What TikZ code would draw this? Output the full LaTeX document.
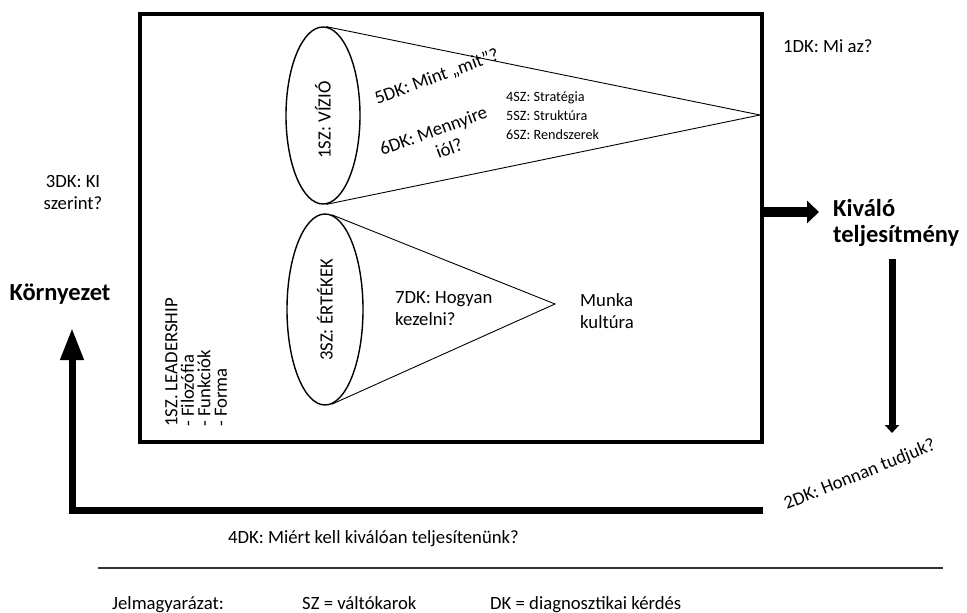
\documentclass[tikz,border=0pt]{standalone}
\usepackage{fontspec}
\setmainfont{Carlito}
\usetikzlibrary{shapes.geometric,arrows.meta}
\begin{document}
\begin{tikzpicture}[x=1pt,y=-1pt,
  txt/.style={inner sep=0pt, font=\fontsize{18.7}{22}\selectfont},
  small/.style={inner sep=0pt, font=\fontsize{14.2}{19}\selectfont},
  big/.style={inner sep=0pt, font=\fontsize{24.5}{26}\selectfont\bfseries},
  oval/.style={ellipse, draw, line width=1.4pt, inner sep=0pt},
  cone/.style={line width=0.9pt},
  fatline/.style={line width=#1, line join=miter},
]
\useasboundingbox (0,0) rectangle (967,613);

% main frame
\node[draw, line width=4pt, minimum width=622.5pt, minimum height=428.5pt,
      inner sep=0pt, outer sep=0pt] (box) at (450.75,227.75) {};

% vision cone
\node[oval, minimum width=74pt, minimum height=177pt] (V) at (323,115.5) {};
\coordinate (A1) at (760,115);
\draw[cone] (V.88) -- (A1) -- (V.-88);
\node[txt, rotate=90] (tV) at (323,120) {1SZ: VÍZIÓ};
\node[txt, rotate=20] (q5) at (437,77) {5DK: Mint „mit”?};
\node[txt, rotate=20, align=flush center, text width=130pt] (q6) at (437,141) {6DK: Mennyire\\\hspace*{18pt}iól?};
\node[small, align=flush left, anchor=west, text width=110pt] (szs) at (506,116) {4SZ: Stratégia\\5SZ: Struktúra\\6SZ: Rendszerek};

% values cone
\node[oval, minimum width=76pt, minimum height=191pt] (E) at (325,309.5) {};
\coordinate (A2) at (555,304);
\draw[cone] (E.86) -- (A2) -- (E.-86);
\node[txt, rotate=90] (tE) at (325,310) {3SZ: ÉRTÉKEK};
\node[txt, align=flush left, anchor=west, text width=120pt] (q7) at (395,309) {7DK: Hogyan\\kezelni?};
\node[txt, align=flush left, anchor=west, text width=80pt] (mk) at (580,311) {Munka\\kultúra};

% leadership
\node[txt, rotate=90, align=flush left, anchor=west, text width=150pt, font=\fontsize{18.7}{16.5}\selectfont]
   (lead) at (196,427) {1SZ. LEADERSHIP\\- Filozófia\\- Funkciók\\- Forma};

% outside labels
\node[txt, anchor=base west] (d1) at (783,52) {1DK: Mi az?};
\node[txt, align=flush center, text width=90pt] (d3) at (73,192) {3DK: KI\\szerint?};
\node[big] (env) at (60,294) {Környezet};
\node[big, align=flush left, anchor=west, text width=140pt] (kt) at (833,223) {Kiváló\\teljesítmény};
\node[txt, rotate=22] (d2) at (860,475) {2DK: Honnan tudjuk?};
\node[txt, anchor=base west] (d4) at (228,543) {4DK: Miért kell kiválóan teljesítenünk?};

% arrows
\coordinate (R1) at (819,212);
\draw[fatline=10pt, -{Triangle[length=12pt,width=22pt]}] (box.east |- R1) -- (R1);
\coordinate (D0) at (892,259);
\coordinate (D1) at (892,433);
\draw[fatline=7pt, -{Triangle[length=8pt,width=14pt]}] (D0) -- (D1);
\coordinate (L0) at (763,510);
\coordinate (L1) at (72,510);
\coordinate (L2) at (72,328);
\draw[fatline=7pt, -{Triangle[length=32pt,width=22pt]}] (L0) -- (L1) -- (L2);

% legend
\coordinate (S0) at (98,568);
\coordinate (S1) at (943,568);
\draw[line width=1.2pt, black!80] (S0) -- (S1);
\node[txt, anchor=base west] (lg1) at (112,609) {Jelmagyarázat:};
\node[txt, anchor=base west] (lg2) at (302,609) {SZ = váltókarok};
\node[txt, anchor=base west] (lg3) at (490,609) {DK = diagnosztikai kérdés};
\end{tikzpicture}
\end{document}
